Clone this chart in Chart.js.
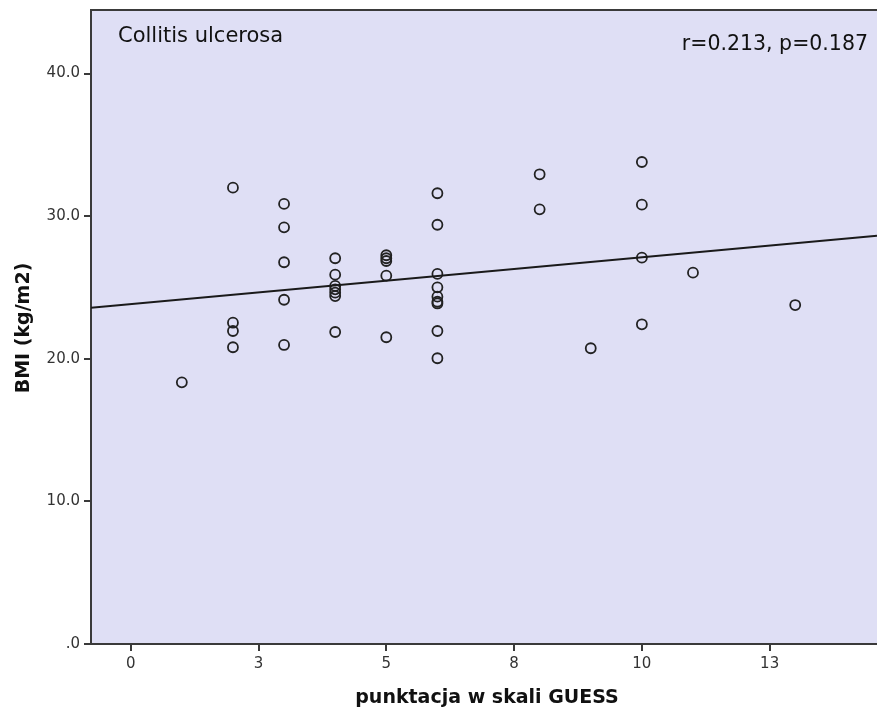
<!DOCTYPE html>
<html>
<head>
<meta charset="utf-8">
<script src="https://cdn.jsdelivr.net/npm/chart.js@4.4.0/dist/chart.umd.min.js"></script>
<style>
html,body{margin:0;padding:0;background:#fff;}
#wrap{width:877px;height:711px;position:relative;}
</style>
</head>
<body>
<div id="wrap"><canvas id="c" width="877" height="711"></canvas></div>
<script>
// GUESS score (x) and BMI (y) for each patient
const guessScores = [1,
  2,2,2,2,
  3,3,3,3,3,
  4,4,4,4,4,4,4,
  5,5,5,5,5,
  6,6,6,6,6,6,6,6,6,
  8,8,
  9,
  10,10,10,10,
  11,
  13];
const bmiValues = [18.35,
  32.00,22.53,21.95,20.81,
  30.86,29.22,26.77,24.14,20.97,
  27.05,25.90,25.11,24.87,24.64,24.40,21.88,
  27.26,27.05,26.86,25.83,21.51,
  31.61,29.40,25.95,25.01,24.36,24.00,23.88,21.95,20.04,
  32.94,30.48,
  20.74,
  33.80,30.81,27.09,22.42,
  26.04,
  23.77];
// Fit line
const fitIntercept = 23.84;
const fitSlope = 0.328;
// Axes
const xRange = [-0.777, 14.6];
const yRange = [0, 44.46];
const xTickValues = [0, 2.5, 5, 7.5, 10, 12.5];
const xTickLabels = ['0', '3', '5', '8', '10', '13'];
const yTickValues = [0, 10, 20, 30, 40];
const yTickLabels = ['.0', '10.0', '20.0', '30.0', '40.0'];
const panelTitle = 'Collitis ulcerosa';
const statText = 'r=0.213, p=0.187';
const xTitle = 'punktacja w skali GUESS';
const yTitle = 'BMI (kg/m2)';

const points = guessScores.map((x, i) => ({x: x, y: bmiValues[i]}));
const fitLine = [
  {x: xRange[0], y: fitIntercept + fitSlope * xRange[0]},
  {x: xRange[1], y: fitIntercept + fitSlope * xRange[1]}
];

const FONT = '"DejaVu Sans", "Liberation Sans", sans-serif';
const AXIS = '#3a3a3a';

const decor = {
  id: 'decor',
  beforeDraw(chart) {
    const {ctx, chartArea: a} = chart;
    ctx.save();
    ctx.fillStyle = 'rgb(223,223,245)';
    ctx.fillRect(a.left, a.top, a.right - a.left, a.bottom - a.top);
    ctx.restore();
  },
  afterDraw(chart) {
    const {ctx, chartArea: a} = chart;
    ctx.save();
    ctx.strokeStyle = AXIS;
    ctx.lineWidth = 2;
    ctx.beginPath();
    ctx.moveTo(a.left - 1, a.top);
    ctx.lineTo(a.right, a.top);
    ctx.stroke();
    ctx.fillStyle = '#111';
    ctx.font = '21px ' + FONT;
    ctx.textBaseline = 'alphabetic';
    ctx.textAlign = 'left';
    ctx.fillText(panelTitle, 118, 42);
    ctx.font = '20.5px ' + FONT;
    ctx.textAlign = 'right';
    ctx.fillText(statText, 868, 49.5);
    ctx.font = 'bold 19px ' + FONT;
    ctx.textAlign = 'center';
    ctx.fillText(xTitle, 487, 703);
    ctx.translate(24, 328);
    ctx.rotate(-Math.PI / 2);
    ctx.textBaseline = 'middle';
    ctx.fillText(yTitle, 0, 0);
    ctx.restore();
  }
};

new Chart(document.getElementById('c'), {
  type: 'scatter',
  data: {
    datasets: [
      {
        label: 'BMI',
        data: points,
        pointRadius: 5,
        pointHoverRadius: 5,
        pointBorderWidth: 1.8,
        pointBorderColor: '#222',
        pointBackgroundColor: 'rgba(0,0,0,0)',
        showLine: false,
        order: 1
      },
      {
        label: 'fit',
        type: 'line',
        data: fitLine,
        borderColor: '#1a1a1a',
        borderWidth: 2,
        pointRadius: 0,
        fill: false,
        order: 0
      }
    ]
  },
  options: {
    responsive: false,
    animation: false,
    events: [],
    layout: {autoPadding: false, padding: {top: 10, right: 0, bottom: 0, left: 0}},
    plugins: {legend: {display: false}, tooltip: {enabled: false}},
    scales: {
      x: {
        type: 'linear',
        min: xRange[0],
        max: xRange[1],
        afterBuildTicks(s) { s.ticks = xTickValues.map(v => ({value: v})); },
        afterFit(s) { s.height = 67; s.paddingLeft = 0; s.paddingRight = 0; },
        grid: {display: true, drawOnChartArea: false, drawTicks: true, tickLength: 7, color: AXIS, lineWidth: 2},
        border: {display: true, color: AXIS, width: 2},
        ticks: {
          autoSkip: false,
          maxRotation: 0,
          padding: 4,
          color: '#333',
          font: {family: FONT, size: 15},
          callback: (v) => { const i = xTickValues.indexOf(v); return i >= 0 ? xTickLabels[i] : ''; }
        }
      },
      y: {
        type: 'linear',
        min: yRange[0],
        max: yRange[1],
        afterBuildTicks(s) { s.ticks = yTickValues.map(v => ({value: v})); },
        afterFit(s) { s.width = 91; s.paddingTop = 0; s.paddingBottom = 0; },
        grid: {display: true, drawOnChartArea: false, drawTicks: true, tickLength: 7, color: AXIS, lineWidth: 2},
        border: {display: true, color: AXIS, width: 2},
        ticks: {
          autoSkip: false,
          padding: 4,
          color: '#333',
          font: {family: FONT, size: 15},
          callback: (v) => { const i = yTickValues.indexOf(v); return i >= 0 ? yTickLabels[i] : ''; }
        }
      }
    }
  },
  plugins: [decor]
});
</script>
</body>
</html>
